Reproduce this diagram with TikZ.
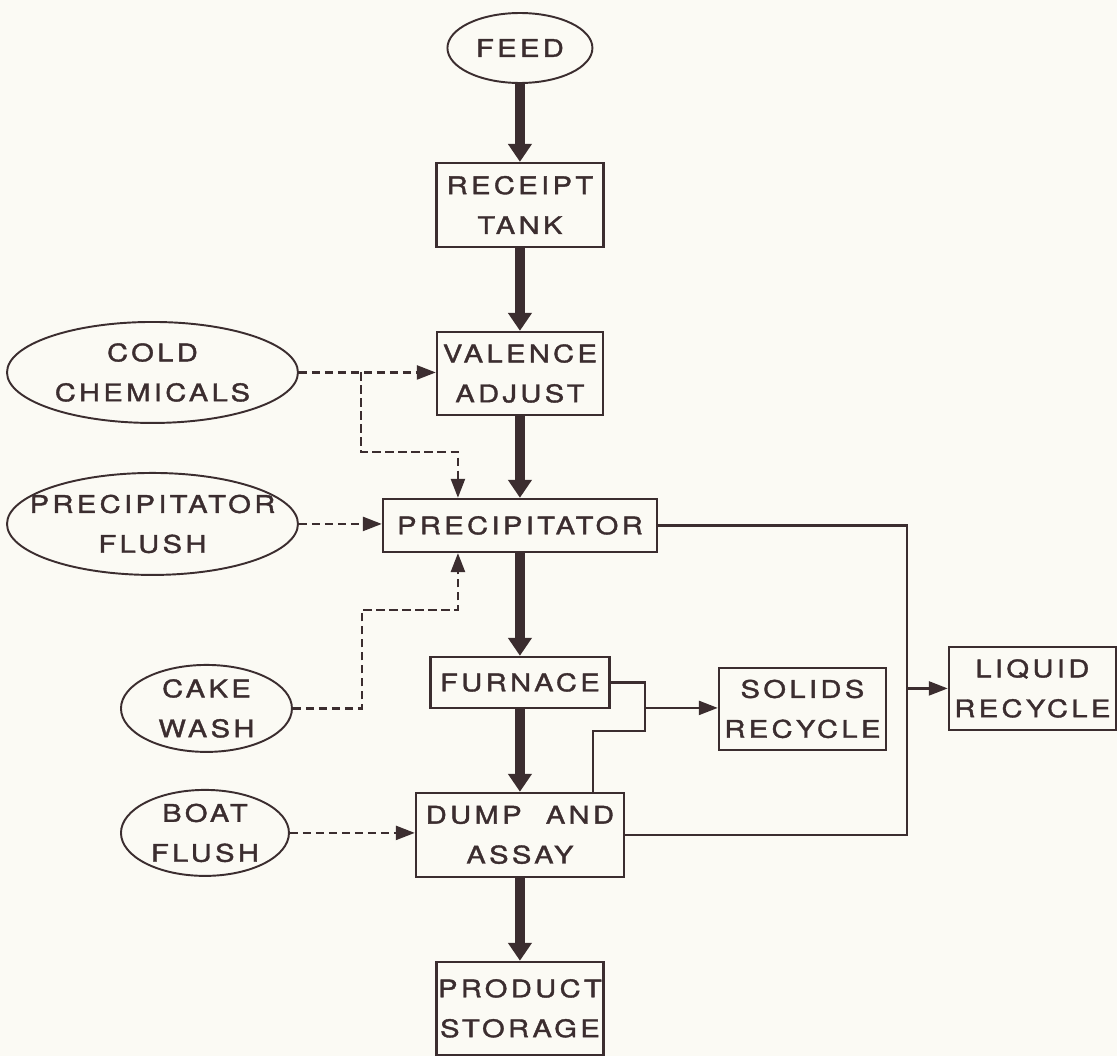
\documentclass[tikz,border=0pt]{standalone}
\usepackage{fontspec}
\newfontfamily\lettering{TeX Gyre Heros}[FakeStretch=1.2,FakeBold=1.5,LetterSpace=14]
\usetikzlibrary{shapes.geometric,arrows.meta}
\definecolor{ink}{HTML}{3B2D2F}
\definecolor{paper}{HTML}{FBFAF4}

\begin{document}
\begin{tikzpicture}[%
	every node/.style={draw=ink,text=ink,line width=1.3pt,inner sep=0pt,align=center,%
		font=\lettering\fontsize{13.8}{22.7}\selectfont},%
	supply/.style={ellipse,line width=1.1pt,inner xsep=-1.2cm,inner ysep=-0.6cm},%
	main/.style={draw=ink,line width=5.2pt,-{Triangle[width=0.46cm,length=0.36cm]}},%
	plain/.style={draw=ink,line width=1.4pt},%
	side/.style={plain,-{Triangle[width=0.28cm,length=0.38cm]}},%
	feedin/.style={side,dash pattern=on 4.6pt off 2.8pt}]

\fill[paper] (0,0) rectangle (22.34,-21.12);

% process units
\foreach \a/\x/\y/\w/\h/\t in {receipt/10.4/-4.10/3.34/1.68/{RECEIPT\\TANK},%
	valence/10.4/-7.47/3.32/1.66/{VALENCE\\ADJUST},%
	precip/10.4/-10.51/5.48/1.06/PRECIPITATOR,%
	furnace/10.4/-13.65/3.58/1.02/FURNACE,%
	dump/10.4/-16.70/4.16/1.68/{DUMP\quad AND\\ASSAY},%
	product/10.4/-20.17/3.34/1.86/{PRODUCT\\STORAGE},%
	solids/16.05/-14.18/3.34/1.64/{SOLIDS\\RECYCLE},%
	liquid/20.65/-13.77/3.34/1.66/{LIQUID\\RECYCLE}}
	\node[minimum width=\w cm,minimum height=\h cm] (\a) at (\x,\y) {\t};

% inputs
\foreach \a/\x/\y/\w/\h/\t in {feed/10.4/-0.96/2.9/1.4/FEED,%
	cold/3.05/-7.45/5.82/2.02/{COLD\\CHEMICALS},%
	pflush/3.05/-10.48/5.82/2.04/{PRECIPITATOR\\FLUSH},%
	cake/4.13/-14.17/3.42/1.74/{CAKE\\WASH},%
	boat/4.10/-16.66/3.36/1.72/{BOAT\\FLUSH}}
	\node[supply,minimum width=\w cm,minimum height=\h cm] (\a) at (\x,\y) {\t};

\foreach \from/\to in {feed/receipt,receipt/valence,valence/precip,precip/furnace,furnace/dump,dump/product}
	\draw[main] (\from) -- (\to);

\coordinate (split) at (7.22,-7.45);
\coordinate (tap) at (9.16,-9.04);
\coordinate (wash) at (7.24,-12.2);
\coordinate (rise) at (11.86,-14.62);
\coordinate (sj) at (12.9,-14.16);
\coordinate (lj) at (18.14,-13.77);

\draw[feedin] (cold.east) -- (cold.east -| valence.west);
\draw[feedin] (split) |- (tap) -- (tap |- precip.north);
\draw[feedin] (pflush.east) -- (pflush.east -| precip.west);
\draw[feedin] (cake.east) -| (wash) -| (precip.south -| tap);
\draw[feedin] (boat.east) -- (boat.east -| dump.west);

\draw[plain] (furnace.east) -| (sj);
\draw[plain] (rise |- dump.north) -- (rise) -| (sj);
\draw[side] (sj) -- (sj -| solids.west);

\draw[plain] (precip.east) -| (lj) |- (dump.east);
\draw[side] (lj) -- (liquid.west);

\end{tikzpicture}
\end{document}
